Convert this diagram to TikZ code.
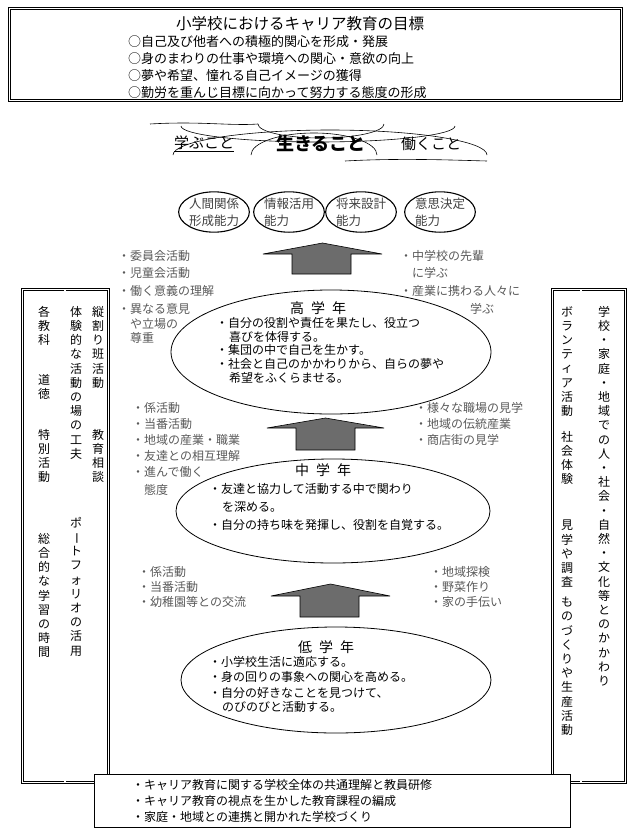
\documentclass[tikz,border=0pt]{standalone}
\usepackage{fontspec}
\newfontfamily\jp{Noto Sans CJK JP}
\usetikzlibrary{shapes.geometric,positioning}

% vertical text: one character per line
\makeatletter
\def\endvtxt{\endvtxt}
\newcommand\vtxt[1]{\vtxt@loop#1\endvtxt}
\def\vtxt@loop#1{\ifx#1\endvtxt\else#1\\\expandafter\vtxt@loop\fi}
\makeatother
\newcommand\vbar{\rotatebox[origin=c]{-90}{ー}}

\begin{document}
\begin{tikzpicture}
    [x=1pt,y=-1pt,
    % Styles
    dbl box/.style={draw,double,double distance=1.6pt,line width=0.6pt},
    plain box/.style={draw,fill=white,line width=0.7pt},
    txt/.style={font=\jp\fontsize{12}{14}\selectfont,inner sep=0,anchor=west},
    side txt/.style={txt,text=black!65},
    vtext/.style={font=\jp\fontsize{12}{14.2}\selectfont,inner sep=0,anchor=north,
      align=center,text width=1em},
    year ell/.style={draw,ellipse,line width=0.8pt,inner sep=0},
    skill ell/.style={draw,ellipse,line width=1.1pt,inner sep=0,minimum width=68,
      minimum height=38,align=center,font=\jp\fontsize{12.5}{17}\selectfont,text=black!75},
    up arrow/.style={draw,fill=gray!85!black,line width=0.6pt}]

    \useasboundingbox (0,0) rectangle (630,833);

    % Goals box
    \node[dbl box,minimum width=612,minimum height=92,anchor=north west] (goals) at (9,8) {};
    \node[txt,font=\jp\fontsize{15.5}{17}\selectfont,anchor=center] (goaltitle) at (300,24)
      {小学校におけるキャリア教育の目標};
    \foreach \i/\t in {0/{自己及び他者への積極的関心を形成・発展},
                       1/{身のまわりの仕事や環境への関心・意欲の向上},
                       2/{夢や希望、憧れる自己イメージの獲得},
                       3/{勤労を重んじ目標に向かって努力する態度の形成}}
      \node[txt,font=\jp\fontsize{13}{15}\selectfont] (goal\i) at (128,{42+17*\i}) {○\t};

    % Cloud
    \draw[line width=0.6pt] (150,124) .. controls (200,121) and (230,126) .. (258,124);
    \draw[line width=0.6pt] (181,126) arc[start angle=180,end angle=0,x radius=137,y radius=16];
    \draw[line width=0.6pt] (258,124) arc[start angle=180,end angle=0,x radius=63,y radius=14];
    \draw[line width=0.6pt] (173,155) arc[start angle=180,end angle=360,x radius=157,y radius=25];
    \draw[line width=0.6pt] (251,155) arc[start angle=180,end angle=360,x radius=63,y radius=22];
    \draw[line width=0.6pt] (345,161) .. controls (400,158) and (450,160) .. (487,161);
    \node[txt,font=\jp\fontsize{15}{17}\selectfont] (learn) at (174,144) {\underline{学ぶこと}};
    \node[txt,font=\jp\bfseries\fontsize{18}{20}\selectfont] (live) at (276,143) {生きること};
    \node[txt,font=\jp\fontsize{15}{17}\selectfont] (work) at (401,144) {働くこと};

    % Abilities
    \node[skill ell] (skill1) at (214,212) {人間関係\\形成能力};
    \node[skill ell] (skill2) at (289,212) {情報活用\\能力\phantom{活用}};
    \node[skill ell] (skill3) at (361,212) {将来設計\\能力\phantom{設計}};
    \node[skill ell] (skill4) at (440,212) {意思決定\\能力\phantom{決定}};

    % Side columns
    \node[dbl box,minimum width=86,minimum height=493,anchor=north west] (leftcol) at (22,289) {};
    \draw[double,double distance=1.6pt,line width=0.6pt] (65,289) -- (65,782);
    \node[dbl box,minimum width=73,minimum height=493,anchor=north west] (rightcol) at (552,289) {};
    \draw[double,double distance=1.6pt,line width=0.6pt] (581,289) -- (581,782);

    \node[vtext] (subj1) at (43,306) {\vtxt{各教科}};
    \node[vtext] (subj2) at (43,374) {\vtxt{道徳}};
    \node[vtext] (subj3) at (43,429) {\vtxt{特別活動}};
    \node[vtext] (subj4) at (43,533) {\vtxt{総合的な学習の時間}};
    \node[vtext] (exp1) at (75,306) {\vtxt{体験的な活動の場の工夫}};
    \node[vtext] (exp2) at (75,517) {\vtxt{ポ\vbar トフォリオの活用}};
    \node[vtext] (exp3) at (97,306) {\vtxt{縦割り班活動}};
    \node[vtext] (exp4) at (97,429) {\vtxt{教育相談}};

    \node[vtext] (act1) at (566,306) {\vtxt{ボランティア活動}};
    \node[vtext] (act2) at (566,431) {\vtxt{社会体験}};
    \node[vtext] (act3) at (566,520) {\vtxt{見学や調査}};
    \node[vtext] (act4) at (566,597) {\vtxt{ものづくりや生産活動}};
    \node[vtext] (link1) at (603,306) {\vtxt{学校・家庭・地域での人・社会・自然・文化等とのかかわり}};

    % Arrows
    \foreach \n/\l/\r/\sl/\sr/\t/\s/\b in {up1/263/382/292/351/243/254/274,
                                           up2/267/384/296/355/418/428/450,
                                           up3/271/390/300/359/584/596/617}
      \path[up arrow] (\l,\s) -- ({(\l+\r)/2},\t) -- (\r,\s) -- (\sr,\s) -- (\sr,\b)
        -- (\sl,\b) -- (\sl,\s) -- cycle;

    % Upper grades
    \node[year ell,minimum width=320,minimum height=124] (upper) at (331,352) {};
    \node[txt,anchor=center,font=\jp\fontsize{14}{16}\selectfont] (uppertitle) at (318,308) {高\enspace 学\enspace 年};
    \node[txt] (up1) at (216,323) {・自分の役割や責任を果たし、役立つ};
    \node[txt] (up2) at (229,337) {喜びを体得する。};
    \node[txt] (up3) at (216,350) {・集団の中で自己を生かす。};
    \node[txt] (up4) at (216,364) {・社会と自己のかかわりから、自らの夢や};
    \node[txt] (up5) at (229,378) {希望をふくらませる。};

    \node[side txt] (ul1) at (118,256) {・委員会活動};
    \node[side txt] (ul2) at (118,273) {・児童会活動};
    \node[side txt] (ul3) at (118,291) {・働く意義の理解};
    \node[side txt] (ul4) at (118,309) {・異なる意見};
    \node[side txt] (ul5) at (130,324) {や立場の};
    \node[side txt] (ul6) at (130,338) {尊重};
    \node[side txt] (ur1) at (400,256) {・中学校の先輩};
    \node[side txt] (ur2) at (412,273) {に学ぶ};
    \node[side txt] (ur3) at (400,291) {・産業に携わる人々に};
    \node[side txt] (ur4) at (470,309) {学ぶ};

    % Middle grades
    \node[year ell,minimum width=314,minimum height=104] (middle) at (333,511) {};
    \node[txt,anchor=center,font=\jp\fontsize{14}{16}\selectfont] (middletitle) at (323,470) {中\enspace 学\enspace 年};
    \node[txt] (mid1) at (209,489) {・友達と協力して活動する中で関わり};
    \node[txt] (mid2) at (222,507) {を深める。};
    \node[txt] (mid3) at (209,525) {・自分の持ち味を発揮し、役割を自覚する。};

    \node[side txt] (ml1) at (132,408) {・係活動};
    \node[side txt] (ml2) at (132,424) {・当番活動};
    \node[side txt] (ml3) at (132,440) {・地域の産業・職業};
    \node[side txt] (ml4) at (132,456) {・友達との相互理解};
    \node[side txt] (ml5) at (132,472) {・進んで働く};
    \node[side txt] (ml6) at (144,490) {態度};
    \node[side txt] (mr1) at (415,408) {・様々な職場の見学};
    \node[side txt] (mr2) at (415,424) {・地域の伝統産業};
    \node[side txt] (mr3) at (415,440) {・商店街の見学};

    % Lower grades
    \node[year ell,minimum width=310,minimum height=106] (lower) at (336,680) {};
    \node[txt,anchor=center,font=\jp\fontsize{14}{16}\selectfont] (lowertitle) at (326,647) {低\enspace 学\enspace 年};
    \node[txt] (low1) at (209,662) {・小学校生活に適応する。};
    \node[txt] (low2) at (209,677) {・身の回りの事象への関心を高める。};
    \node[txt] (low3) at (209,693) {・自分の好きなことを見つけて、};
    \node[txt] (low4) at (222,707) {のびのびと活動する。};

    \node[side txt] (ll1) at (138,572) {・係活動};
    \node[side txt] (ll2) at (138,587) {・当番活動};
    \node[side txt] (ll3) at (138,602) {・幼稚園等との交流};
    \node[side txt] (lr1) at (430,572) {・地域探検};
    \node[side txt] (lr2) at (430,587) {・野菜作り};
    \node[side txt] (lr3) at (430,602) {・家の手伝い};

    % Base box
    \node[plain box,minimum width=476,minimum height=53,anchor=north west] (base) at (94,774) {};
    \node[txt] (base1) at (132,785) {・キャリア教育に関する学校全体の共通理解と教員研修};
    \node[txt] (base2) at (132,801) {・キャリア教育の視点を生かした教育課程の編成};
    \node[txt] (base3) at (132,817) {・家庭・地域との連携と開かれた学校づくり};
\end{tikzpicture}
\end{document}
